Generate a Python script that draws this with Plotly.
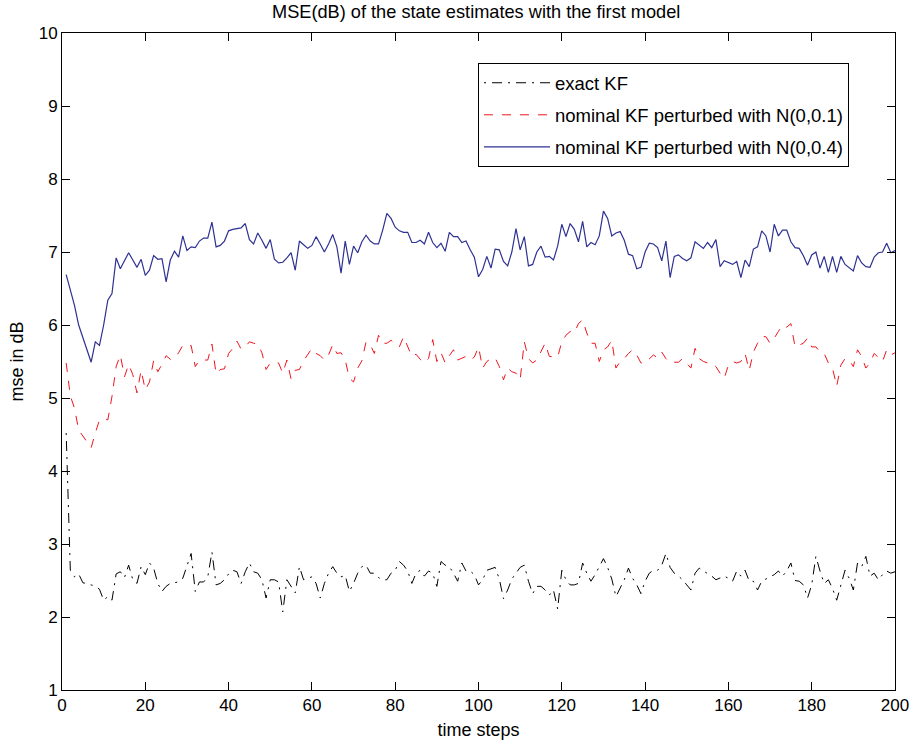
import plotly.graph_objects as go

time_steps = list(range(1, 201))

exact_kf = [
    4.52, 2.64, 2.55, 2.59, 2.47, 2.46, 2.44, 2.42, 2.38, 2.23,
    2.28, 2.23, 2.59, 2.62, 2.54, 2.71, 2.51, 2.46, 2.69, 2.58,
    2.74, 2.67, 2.46, 2.35, 2.42, 2.46, 2.47, 2.48, 2.53, 2.69,
    2.87, 2.35, 2.48, 2.48, 2.55, 2.89, 2.44, 2.46, 2.51, 2.59,
    2.64, 2.62, 2.46, 2.62, 2.74, 2.62, 2.60, 2.51, 2.26, 2.51,
    2.51, 2.48, 2.07, 2.51, 2.42, 2.33, 2.69, 2.51, 2.53, 2.55,
    2.46, 2.26, 2.46, 2.60, 2.69, 2.60, 2.55, 2.57, 2.35, 2.46,
    2.60, 2.69, 2.71, 2.60, 2.60, 2.54, 2.51, 2.51, 2.60, 2.64,
    2.76, 2.71, 2.63, 2.46, 2.60, 2.64, 2.56, 2.63, 2.60, 2.42,
    2.76, 2.71, 2.69, 2.60, 2.49, 2.74, 2.63, 2.63, 2.58, 2.44,
    2.51, 2.64, 2.66, 2.68, 2.52, 2.25, 2.37, 2.52, 2.60, 2.68,
    2.71, 2.49, 2.32, 2.42, 2.42, 2.37, 2.30, 2.37, 2.11, 2.64,
    2.51, 2.44, 2.44, 2.46, 2.74, 2.60, 2.49, 2.58, 2.69, 2.80,
    2.68, 2.52, 2.28, 2.39, 2.51, 2.67, 2.53, 2.44, 2.32, 2.49,
    2.60, 2.64, 2.64, 2.71, 2.87, 2.68, 2.60, 2.56, 2.51, 2.44,
    2.37, 2.60, 2.67, 2.63, 2.60, 2.56, 2.51, 2.53, 2.56, 2.53,
    2.49, 2.63, 2.56, 2.64, 2.49, 2.49, 2.37, 2.49, 2.52, 2.55,
    2.58, 2.63, 2.56, 2.63, 2.74, 2.50, 2.49, 2.44, 2.26, 2.44,
    2.83, 2.63, 2.46, 2.51, 2.39, 2.23, 2.44, 2.64, 2.53, 2.37,
    2.74, 2.69, 2.83, 2.56, 2.60, 2.51, 2.58, 2.63, 2.60, 2.62,
]

nominal_01 = [
    5.48, 5.03, 4.86, 4.56, 4.48, 4.40, 4.32, 4.52, 4.70, 4.72,
    4.70, 5.02, 5.43, 5.59, 5.29, 5.46, 5.32, 5.07, 5.38, 5.11,
    5.22, 5.51, 5.36, 5.46, 5.58, 5.53, 5.54, 5.62, 5.72, 5.70,
    5.72, 5.43, 5.52, 5.52, 5.52, 5.74, 5.33, 5.39, 5.40, 5.61,
    5.68, 5.78, 5.67, 5.70, 5.77, 5.75, 5.74, 5.62, 5.39, 5.48,
    5.49, 5.48, 5.34, 5.52, 5.26, 5.38, 5.39, 5.51, 5.60, 5.68,
    5.61, 5.58, 5.52, 5.59, 5.73, 5.61, 5.62, 5.52, 5.27, 5.22,
    5.41, 5.51, 5.77, 5.73, 5.61, 5.86, 5.75, 5.75, 5.79, 5.75,
    5.70, 5.84, 5.71, 5.57, 5.60, 5.53, 5.48, 5.54, 5.80, 5.50,
    5.62, 5.48, 5.58, 5.66, 5.52, 5.54, 5.57, 5.52, 5.56, 5.70,
    5.41, 5.50, 5.54, 5.55, 5.43, 5.25, 5.41, 5.36, 5.34, 5.25,
    5.77, 5.54, 5.48, 5.52, 5.64, 5.75, 5.57, 5.56, 5.56, 5.77,
    5.86, 5.91, 5.89, 6.02, 6.07, 5.89, 5.75, 5.75, 5.50, 5.66,
    5.70, 5.79, 5.41, 5.50, 5.54, 5.61, 5.66, 5.59, 5.48, 5.48,
    5.54, 5.59, 5.55, 5.63, 5.54, 5.48, 5.49, 5.49, 5.54, 5.48,
    5.41, 5.68, 5.54, 5.50, 5.48, 5.48, 5.43, 5.34, 5.27, 5.45,
    5.50, 5.48, 5.50, 5.61, 5.38, 5.63, 5.75, 5.84, 5.84, 5.75,
    5.82, 5.91, 6.00, 5.97, 6.02, 5.70, 5.72, 5.75, 5.82, 5.70,
    5.70, 5.63, 5.61, 5.48, 5.41, 5.16, 5.45, 5.54, 5.52, 5.43,
    5.66, 5.57, 5.41, 5.48, 5.61, 5.56, 5.50, 5.66, 5.59, 5.62,
]

nominal_04 = [
    6.69, 6.48, 6.27, 6.00, 5.84, 5.68, 5.49, 5.77, 5.72, 6.00,
    6.34, 6.43, 6.92, 6.77, 6.88, 6.99, 6.89, 6.79, 6.90, 6.68,
    6.75, 6.95, 6.90, 6.91, 6.59, 6.89, 7.01, 6.93, 7.22, 7.02,
    7.07, 7.06, 7.15, 7.19, 7.19, 7.41, 7.07, 7.09, 7.15, 7.29,
    7.31, 7.32, 7.33, 7.39, 7.17, 7.11, 7.26, 7.16, 7.05, 7.17,
    6.90, 6.85, 6.86, 6.92, 6.99, 6.75, 7.15, 7.10, 7.05, 7.09,
    7.21, 7.11, 7.00, 7.11, 7.24, 7.07, 6.71, 7.15, 6.83, 7.08,
    6.99, 7.14, 7.23, 7.15, 7.11, 7.11, 7.30, 7.53, 7.46, 7.34,
    7.29, 7.27, 7.27, 7.13, 7.13, 7.16, 7.11, 7.27, 7.13, 7.06,
    7.12, 7.01, 7.27, 7.21, 7.21, 7.13, 7.15, 7.03, 6.93, 6.66,
    6.76, 6.94, 6.78, 7.04, 7.03, 6.87, 6.81, 7.00, 7.32, 7.03,
    7.21, 6.81, 6.83, 7.00, 7.08, 6.93, 6.94, 6.89, 7.08, 7.38,
    7.21, 7.39, 7.31, 7.14, 7.42, 7.07, 7.13, 7.10, 7.22, 7.56,
    7.46, 7.22, 7.26, 7.28, 7.16, 6.97, 6.95, 6.77, 6.79, 7.00,
    7.12, 7.11, 7.06, 6.88, 7.15, 6.65, 6.94, 6.96, 6.91, 6.88,
    6.92, 7.14, 7.10, 7.05, 7.13, 7.06, 7.17, 6.80, 6.88, 6.86,
    6.83, 6.87, 6.65, 6.89, 6.80, 7.04, 7.07, 7.29, 7.22, 7.00,
    7.38, 7.22, 7.30, 7.30, 7.14, 7.06, 7.05, 6.95, 6.82, 6.96,
    7.00, 6.78, 6.94, 6.72, 6.94, 6.72, 6.94, 6.83, 6.79, 6.74,
    6.95, 6.85, 6.80, 6.79, 6.93, 6.99, 7.00, 7.12, 6.99, 7.02,
]

x_ticks = [0, 20, 40, 60, 80, 100, 120, 140, 160, 180, 200]
y_ticks = [1, 2, 3, 4, 5, 6, 7, 8, 9, 10]

FONT = "Liberation Sans, Arial, Helvetica, sans-serif"

fig = go.Figure()
fig.add_trace(go.Scatter(
    x=time_steps, y=exact_kf, mode="lines", name="exact KF",
    legendgroup="a",
    line=dict(color="black", width=1, dash="2px,6px,10px,6px"),
))
fig.add_trace(go.Scatter(
    x=time_steps, y=nominal_01, mode="lines",
    name="nominal KF perturbed with N(0,0.1)", legendgroup="b",
    line=dict(color="#f0141e", width=1, dash="9px,9px"),
))
fig.add_trace(go.Scatter(
    x=time_steps, y=nominal_04, mode="lines",
    name="nominal KF perturbed with N(0,0.4)", legendgroup="c",
    line=dict(color="#2e3192", width=1.2),
))

axis_common = dict(
    showline=True, linecolor="black", linewidth=1, mirror="ticks",
    ticks="inside", ticklen=8, tickcolor="black", tickwidth=1,
    showgrid=False, zeroline=False, automargin=False,
    tickfont=dict(family=FONT, size=17, color="black"),
)

fig.update_layout(
    template="none",
    width=914, height=740,
    margin=dict(l=62, r=19, t=33, b=50),
    paper_bgcolor="white", plot_bgcolor="white",
    font=dict(family=FONT, color="black"),
    title=dict(
        text="MSE(dB) of the state estimates with the first model",
        x=0.521, xanchor="center", y=0.984, yanchor="middle",
        font=dict(family=FONT, size=18.2, color="black"),
    ),
    xaxis=dict(
        range=[0, 200], tickvals=x_ticks,
        title=dict(text="time steps", font=dict(family=FONT, size=18), standoff=12),
        **axis_common,
    ),
    yaxis=dict(
        range=[1, 10], tickvals=y_ticks,
        title=dict(text="mse in dB", font=dict(family=FONT, size=18), standoff=10),
        **axis_common,
    ),
    legend=dict(
        x=0.4994, y=0.954, xanchor="left", yanchor="top",
        bordercolor="black", borderwidth=1, bgcolor="white",
        font=dict(family=FONT, size=18.5, color="black"),
        traceorder="grouped", tracegroupgap=5,
        itemwidth=66, entrywidth=310, entrywidthmode="pixels",
    ),
    showlegend=True,
)

fig.write_html("out.html")
